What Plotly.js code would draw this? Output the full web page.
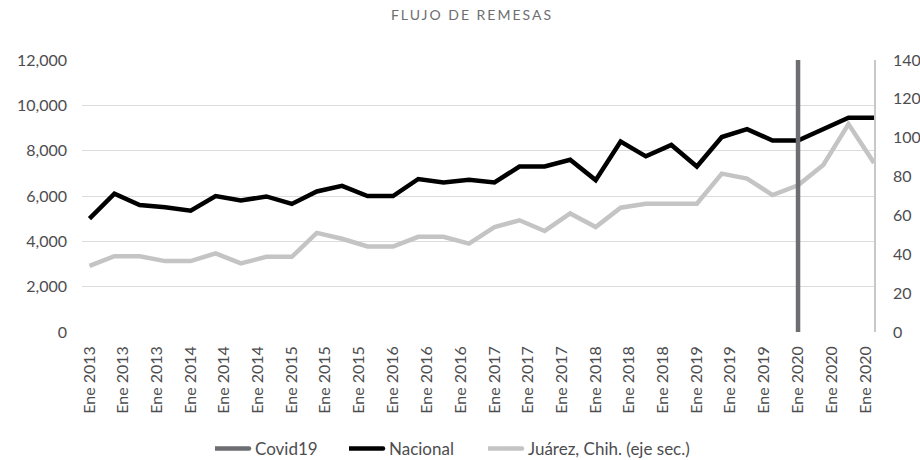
<!DOCTYPE html>
<html>
<head>
<meta charset="utf-8">
<script src="https://cdn.plot.ly/plotly-3.0.1.min.js"></script>
<style>
  html, body { margin: 0; padding: 0; background: #fff; }
  #chart { width: 920px; height: 460px; }
  .gtitle { letter-spacing: 2px; }
  .legendlines path { d: path("M-4,0h38"); stroke-linecap: round; }
</style>
</head>
<body>
<div id="chart"></div>
<script>
// Quarterly dates
const quarters = [
  '2013-01-01','2013-04-01','2013-07-01','2013-10-01',
  '2014-01-01','2014-04-01','2014-07-01','2014-10-01',
  '2015-01-01','2015-04-01','2015-07-01','2015-10-01',
  '2016-01-01','2016-04-01','2016-07-01','2016-10-01',
  '2017-01-01','2017-04-01','2017-07-01','2017-10-01',
  '2018-01-01','2018-04-01','2018-07-01','2018-10-01',
  '2019-01-01','2019-04-01','2019-07-01','2019-10-01',
  '2020-01-01','2020-04-01','2020-07-01','2020-10-01'
];
// Nacional (left axis)
const nacional = [
  5000, 6100, 5600, 5500,
  5350, 6000, 5800, 5980,
  5650, 6200, 6450, 6000,
  6000, 6750, 6600, 6720,
  6600, 7300, 7300, 7600,
  6700, 8400, 7750, 8250,
  7300, 8600, 8950, 8450,
  8450, 8950, 9450, 9450
];
// Juárez, Chih. (right axis)
const juarez = [
  34, 39, 39, 36.5,
  36.5, 40.5, 35.3, 38.7,
  38.7, 51, 48, 44,
  44, 49, 49, 45.5,
  54, 57.5, 52, 61,
  54, 64, 66, 66,
  66, 81.5, 79, 70.5,
  75.5, 86, 107, 87
];
// Covid19 marker line
const covidX = ['2020-01-01', '2020-01-01'];
const covidY = [0, 140];

// Tick labels
const tickVals = [
  '2013-01-01','2013-05-01','2013-09-01',
  '2014-01-01','2014-05-01','2014-09-01',
  '2015-01-01','2015-05-01','2015-09-01',
  '2016-01-01','2016-05-01','2016-09-01',
  '2017-01-01','2017-05-01','2017-09-01',
  '2018-01-01','2018-05-01','2018-09-01',
  '2019-01-01','2019-05-01','2019-09-01',
  '2020-01-01','2020-05-01','2020-09-01'
];
const tickText = [
  'Ene 2013','Ene 2013','Ene 2013',
  'Ene 2014','Ene 2014','Ene 2014',
  'Ene 2015','Ene 2015','Ene 2015',
  'Ene 2016','Ene 2016','Ene 2016',
  'Ene 2017','Ene 2017','Ene 2017',
  'Ene 2018','Ene 2018','Ene 2018',
  'Ene 2019','Ene 2019','Ene 2019',
  'Ene 2020','Ene 2020','Ene 2020'
];
const leftTicks = [0, 2000, 4000, 6000, 8000, 10000, 12000];
const rightTicks = [0, 20, 40, 60, 80, 100, 120, 140];

const FONT = 'Lato, "Open Sans", sans-serif';
const TXT = '#4d4d4f';

const traces = [
  {
    x: quarters, y: juarez, yaxis: 'y2', type: 'scatter', mode: 'lines',
    name: 'Juárez, Chih. (eje sec.)', legend: 'legend3',
    line: { color: '#c4c4c4', width: 4.5 }
  },
  {
    x: quarters, y: nacional, type: 'scatter', mode: 'lines',
    name: 'Nacional', legend: 'legend2',
    line: { color: '#000000', width: 4.5 }
  },
  {
    x: covidX, y: covidY, yaxis: 'y2', type: 'scatter', mode: 'lines',
    name: 'Covid19', legend: 'legend',
    line: { color: '#6d6e71', width: 4.5 }
  }
];

function legendAt(px) {
  return {
    orientation: 'h', x: px / 920, xanchor: 'left', xref: 'container',
    y: 0.024, yref: 'container', yanchor: 'middle',
    font: { family: FONT, size: 17, color: TXT },
    bgcolor: 'rgba(0,0,0,0)', borderwidth: 0
  };
}

const layout = {
  width: 920, height: 460,
  margin: { l: 82, r: 46, t: 59.5, b: 128 },
  paper_bgcolor: '#ffffff', plot_bgcolor: '#ffffff',
  font: { family: FONT, color: TXT, size: 16 },
  title: {
    text: 'FLUJO DE REMESAS',
    font: { family: FONT, size: 14, color: '#6d6e71' },
    x: 0.513, xref: 'container', xanchor: 'center',
    y: 0.967, yref: 'container', yanchor: 'middle'
  },
  showlegend: true,
  legend: legendAt(215),
  legend2: legendAt(349),
  legend3: legendAt(488),
  xaxis: {
    type: 'date',
    range: ['2012-12-05', '2020-10-01'],
    tickmode: 'array', tickvals: tickVals, ticktext: tickText,
    tickangle: -90, showgrid: false, zeroline: false, showline: false,
    ticks: '', ticklabelstandoff: 10,
    tickfont: { family: FONT, size: 16, color: TXT }
  },
  yaxis: {
    range: [0, 12000], tickmode: 'array', tickvals: leftTicks,
    tickformat: ',d', showgrid: true, gridcolor: '#dcdcdc', gridwidth: 1,
    zeroline: false, showline: false, ticks: '', ticklabelstandoff: 14,
    tickfont: { family: FONT, size: 16, color: TXT }
  },
  yaxis2: {
    overlaying: 'y', side: 'right', range: [0, 140],
    tickmode: 'array', tickvals: rightTicks,
    showgrid: false, zeroline: false, showline: true,
    linecolor: '#c8c8c8', linewidth: 1.5, ticks: '', ticklabelstandoff: 14,
    tickfont: { family: FONT, size: 16, color: TXT }
  }
};

Plotly.newPlot('chart', traces, layout, { displayModeBar: false, responsive: false });
</script>
</body>
</html>
